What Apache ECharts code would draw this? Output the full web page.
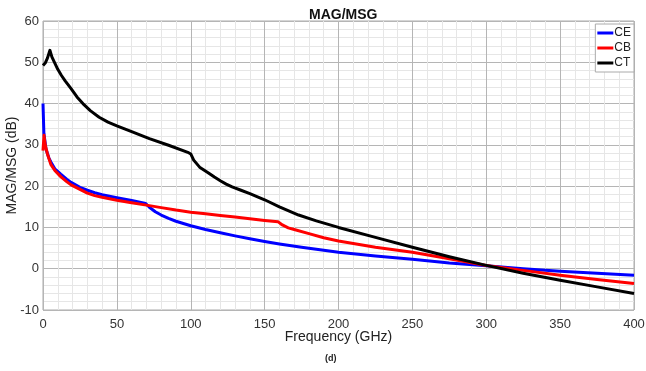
<!DOCTYPE html>
<html>
<head>
<meta charset="utf-8">
<script src="https://cdn.jsdelivr.net/npm/echarts@6/dist/echarts.min.js"></script>
<style>
  html, body { margin: 0; padding: 0; background: #fff; }
  #chart { width: 646px; height: 371px; }
</style>
</head>
<body>
<div id="chart"></div>
<script>
// values (GHz, dB)
const ceFreq = [0, 0.6, 2, 4, 5.4, 8, 12, 16, 19, 25, 30, 35, 40, 50, 60, 69.5, 72, 76, 80, 85, 90, 100, 110, 120, 130, 140, 150, 160, 175, 200, 225, 250, 275, 300, 325, 350, 375, 400];
const ceVal  = [40, 32.8, 29, 26.8, 25.8, 24.2, 22.9, 21.7, 20.9, 19.7, 19.0, 18.4, 17.9, 17.2, 16.5, 15.8, 14.9, 13.8, 13.0, 12.2, 11.5, 10.4, 9.5, 8.7, 7.95, 7.25, 6.6, 6.0, 5.2, 4.0, 3.1, 2.3, 1.4, 0.7, 0.0, -0.6, -1.1, -1.6];

const cbFreq = [0, 0.7, 1.5, 3, 5.4, 8, 12, 16, 19, 25, 30, 35, 40, 50, 60, 70, 80, 90, 100, 110, 120, 130, 140, 150, 159, 162, 166, 170, 180, 190, 200, 225, 250, 275, 300, 325, 350, 375, 400];
const cbVal  = [28.6, 32.3, 30, 27.8, 25.2, 23.8, 22.3, 21.1, 20.3, 19.2, 18.3, 17.7, 17.3, 16.6, 16.0, 15.4, 14.8, 14.2, 13.7, 13.3, 12.9, 12.5, 12.1, 11.7, 11.4, 10.6, 9.9, 9.5, 8.5, 7.5, 6.7, 5.2, 4.0, 2.4, 0.8, -0.4, -1.6, -2.6, -3.6];

const ctFreq = [0, 1.5, 3, 4.7, 6, 8, 10, 12.5, 15, 19, 23, 27, 32, 38, 44, 50, 60, 72, 85, 98, 100, 102, 106, 112, 116, 120, 124, 128, 134, 140, 150, 160, 173, 185, 200, 225, 250, 275, 300, 325, 350, 375, 400];
const ctVal  = [49.2, 49.8, 51, 52.9, 51.3, 49.8, 48.3, 46.8, 45.5, 43.6, 41.6, 40.0, 38.3, 36.7, 35.5, 34.6, 33.2, 31.5, 29.9, 28.2, 27.8, 26.3, 24.6, 23.2, 22.2, 21.3, 20.5, 19.8, 19.0, 18.2, 16.7, 15.0, 13.0, 11.6, 10.0, 7.6, 5.2, 2.9, 0.8, -1.1, -2.8, -4.4, -6.0];

const seriesNames = ["CE", "CB", "CT"];
const seriesColors = ["#0000ff", "#ff0000", "#000000"];

function pairs(xs, ys) {
  return xs.map((x, i) => [x, ys[i]]);
}

const chart = echarts.init(document.getElementById("chart"), null, { renderer: "canvas" });

const FONT = "Liberation Sans, Arial, sans-serif";
const axisText = { color: "#333", fontSize: 13, fontFamily: FONT };

chart.setOption({
  backgroundColor: "#fff",
  animation: false,
  title: {
    text: "MAG/MSG",
    left: 304,
    top: 3,
    textStyle: { fontSize: 14, fontWeight: "bold", color: "#111", fontFamily: FONT }
  },
  graphic: [{
    type: "text",
    left: 325,
    top: 354,
    style: { text: "(d)", font: "bold 9px " + FONT, fill: "#222" }
  }],
  legend: {
    orient: "vertical",
    right: 12,
    top: 24,
    backgroundColor: "#fff",
    borderColor: "#aaa",
    borderWidth: 1,
    borderRadius: 0,
    padding: [3, 3, 3, 2],
    itemGap: 3,
    itemWidth: 16,
    itemHeight: 3,
    icon: "rect",
    textStyle: { fontSize: 12, color: "#222", padding: [0, 0, 0, -4], fontFamily: FONT },
    data: seriesNames
  },
  grid: {
    left: 43, right: 12, top: 21, bottom: 61,
    outerBoundsMode: "none",
    containLabel: false,
    show: true, borderColor: "#aaa", borderWidth: 1
  },
  xAxis: {
    type: "value",
    min: 0, max: 400, interval: 50,
    name: "Frequency (GHz)",
    nameLocation: "middle",
    nameMoveOverlap: false,
    nameGap: 20,
    nameTextStyle: { fontSize: 14, color: "#222", fontFamily: FONT },
    axisLine: { show: false },
    axisTick: { show: false },
    axisLabel: Object.assign({ margin: 8 }, axisText),
    splitLine: { show: true, lineStyle: { color: "#b5b5b5", width: 1 } },
    minorTick: { show: false, splitNumber: 5 },
    minorSplitLine: { show: true, lineStyle: { color: "#e6e6e6", width: 1 } }
  },
  yAxis: {
    type: "value",
    min: -10, max: 60, interval: 10,
    name: "MAG/MSG (dB)",
    nameLocation: "middle",
    nameMoveOverlap: false,
    nameGap: 24,
    nameTextStyle: { fontSize: 14, color: "#222", fontFamily: FONT },
    axisLine: { show: false },
    axisTick: { show: false },
    axisLabel: Object.assign({ margin: 4 }, axisText),
    splitLine: { show: true, lineStyle: { color: "#b5b5b5", width: 1 } },
    minorTick: { show: false, splitNumber: 5 },
    minorSplitLine: { show: true, lineStyle: { color: "#e6e6e6", width: 1 } }
  },
  series: [
    { name: "CE", type: "line", data: pairs(ceFreq, ceVal) },
    { name: "CB", type: "line", data: pairs(cbFreq, cbVal) },
    { name: "CT", type: "line", data: pairs(ctFreq, ctVal) }
  ].map((s, i) => Object.assign(s, {
    showSymbol: false,
    smooth: false,
    color: seriesColors[i],
    lineStyle: { width: 3, color: seriesColors[i], join: "round" }
  }))
});
</script>
</body>
</html>
